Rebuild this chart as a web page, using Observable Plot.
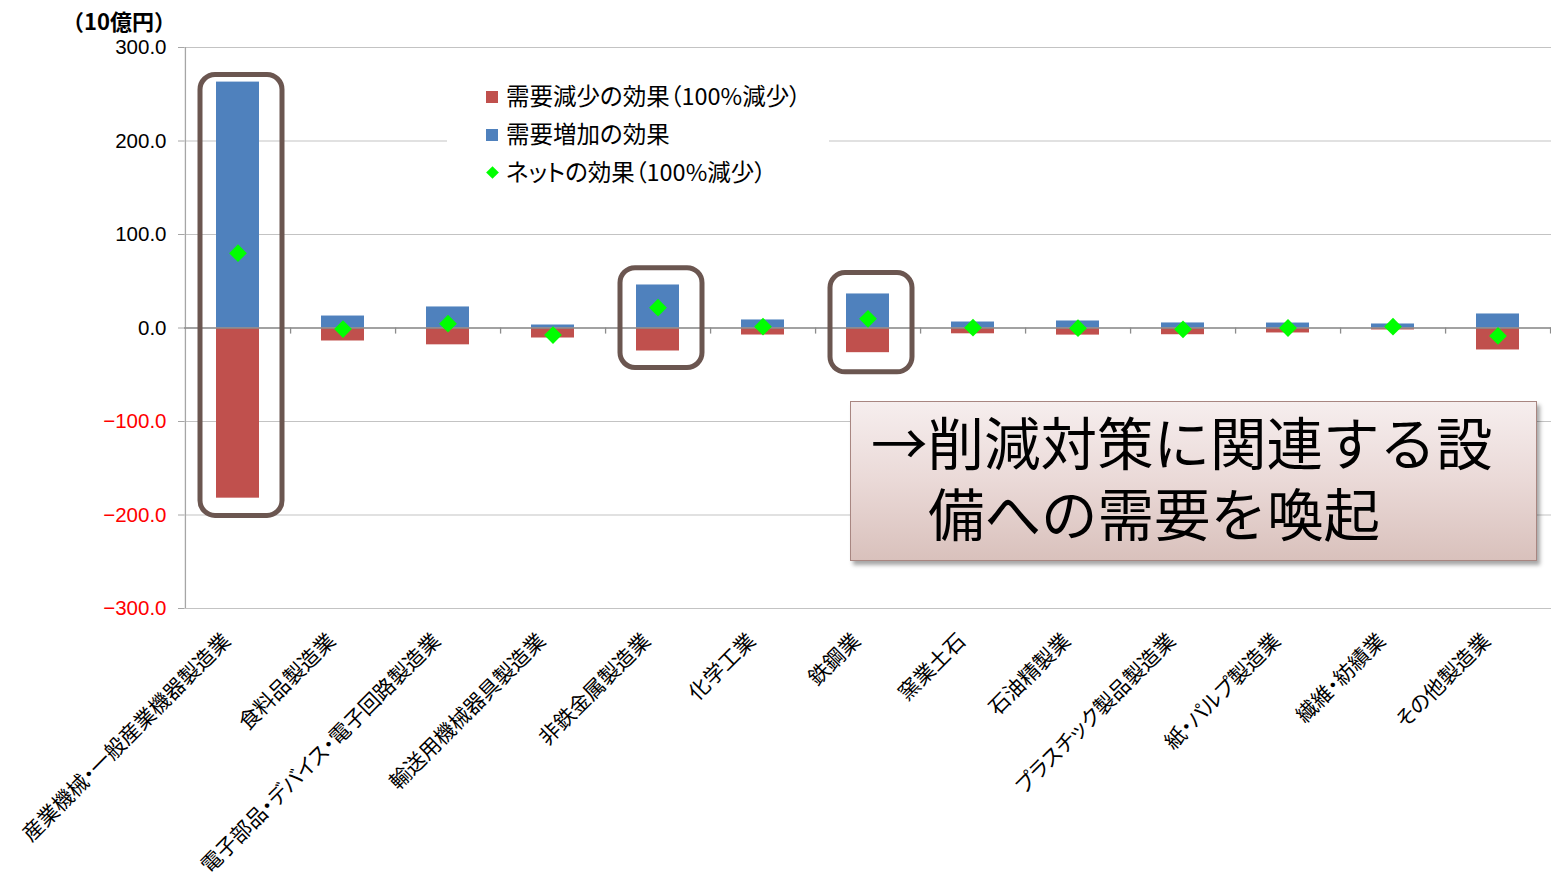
<!DOCTYPE html>
<html>
<head>
<meta charset="utf-8">
<script src="https://cdn.jsdelivr.net/npm/d3@7"></script>
<script src="https://cdn.jsdelivr.net/npm/@observablehq/plot@0.6"></script>
<style>
  html, body { margin: 0; padding: 0; background: #fff; }
  #wrap { position: relative; width: 1551px; height: 877px; overflow: hidden; }
  .cjk { font-family: "Noto Sans CJK JP", "Noto Sans", sans-serif; }
  #unit { position: absolute; left: 40px; width: 136px; top: 4px; text-align: right; font-weight: bold; font-size: 22px; color: #000; }
  #legend { position: absolute; left: 447px; top: 76px; width: 382px; height: 118px; background: #fff; }
  .item { position: absolute; left: 39px; height: 30px; line-height: 30px; font-size: 23.5px; color: #000; white-space: nowrap; font-feature-settings: "palt"; }
  .sw { display: inline-block; width: 12px; height: 12px; margin-right: 8px; vertical-align: middle; position: relative; top: -2px; }
  .dia { display: inline-block; width: 9px; height: 9px; background: #00ff00; transform: rotate(45deg); margin: 0 9px 0 2px; vertical-align: middle; position: relative; top: -2px; }
  #callout { position: absolute; left: 850px; top: 401px; width: 685px; height: 158px; border: 1.5px solid #a88681;
    background: linear-gradient(to bottom, #f6eeee 0%, #ead9d7 50%, #d9c1bc 100%);
    box-shadow: 3px 4px 4px rgba(0,0,0,0.35); }
  #callout .txt { position: absolute; left: 20px; top: 3px; width: 660px; padding-left: 57px; text-indent: -57px;
    font-size: 56.5px; line-height: 71px; color: #000; white-space: pre; }
</style>
</head>
<body>
<div id="wrap">
  <div id="chart"></div>
  <div id="unit" class="cjk"></div>
  <div id="legend" class="cjk"></div>
  <div id="callout" class="cjk"></div>
</div>
<script>
// ---- data ----
const categories = [
  "産業機械・一般産業機器製造業", "食料品製造業", "電子部品・デバイス・電子回路製造業",
  "輸送用機械器具製造業", "非鉄金属製造業", "化学工業", "鉄鋼業", "窯業土石",
  "石油精製業", "プラスチック製品製造業", "紙・パルプ製造業", "繊維・紡績業", "その他製造業"
];
const decreaseEffect = [-182, -13.9, -18, -10.7, -24.6, -7.5, -26.4, -6.2, -7.6, -7.2, -5.3, -2.1, -23.5];
const increaseEffect = [263, 12.8, 22.5, 3.2, 46, 8.6, 36.4, 6.4, 7.5, 5.4, 5.3, 4.3, 15];
const netEffect      = [80, -1.1, 4.6, -7.5, 21.7, 1.4, 9.8, 0.3, -0.2, -1.4, 0, 1.4, -8.5];
const yTicks = [-300, -200, -100, 0, 100, 200, 300];
const legendLabels = ["需要減少の効果（100%減少）", "需要増加の効果", "ネットの効果（100%減少）"];
const highlightCats = ["産業機械・一般産業機器製造業", "非鉄金属製造業", "鉄鋼業"];
const highlightTop = [270.6, 64, 58.8];
const highlightBottom = [-201, -42.8, -47.4];
const calloutLines = ["→削減対策に関連する設", "備への需要を喚起"];
const unitLabel = "（10億円）";

// ---- build ----
const rows = categories.map((c, i) => ({category: c, dec: decreaseEffect[i], inc: increaseEffect[i], net: netEffect[i]}));
const boxes = highlightCats.map((c, i) => ({category: c, top: highlightTop[i], bottom: highlightBottom[i]}));

const W = 1551, H = 877, mL = 184, mR = 0, mT = 47, mB = 269;
const step = (W - mL - mR) / categories.length;
const fmt = d3.format(".1f");
const CJK = "Noto Sans CJK JP";

const chart = Plot.plot({
  width: W, height: H,
  marginLeft: mL, marginRight: mR, marginTop: mT, marginBottom: mB,
  style: {fontFamily: "Liberation Sans, Arial, sans-serif", background: "transparent", overflow: "visible"},
  x: {domain: categories, paddingInner: 0.59, paddingOuter: 0.295, axis: null},
  y: {domain: [-300, 300], axis: null},
  marks: [
    Plot.ruleY(yTicks, {stroke: "#c3c3c3", strokeWidth: 1}),
    Plot.ruleX([categories[0]], {dx: -step / 2, stroke: "#a6a6a6", strokeWidth: 1.3}),
    Plot.axisY({ticks: yTicks, tickSize: 6, tickFormat: () => "", stroke: "#a6a6a6"}),
    Plot.barY(rows, {x: "category", y1: 0, y2: "dec", fill: "#c0504d"}),
    Plot.barY(rows, {x: "category", y1: 0, y2: "inc", fill: "#4f81bd"}),
    Plot.ruleY([0], {stroke: "#8c8c8c", strokeWidth: 1.5}),
    Plot.ruleX(categories, {x: d => d, dx: step / 2, y1: 0, y2: -6.5, stroke: "#8c8c8c", strokeWidth: 1.3}),
    Plot.dot(rows, {x: "category", y: "net", symbol: "diamond2", r: 8, fill: "#00ff00", stroke: "none"}),
    Plot.barY(boxes, {x: "category", y1: "bottom", y2: "top", fill: "none", stroke: "#6b5650", strokeWidth: 5, rx: 15, insetLeft: -16, insetRight: -23}),
    Plot.text(yTicks.filter(d => d >= 0), {y: d => d, frameAnchor: "left", dx: -18, textAnchor: "end", text: d => fmt(d), fill: "#000", fontSize: 20.5}),
    Plot.text(yTicks.filter(d => d < 0), {y: d => d, frameAnchor: "left", dx: -18, textAnchor: "end", text: d => fmt(d), fill: "#ff0000", fontSize: 20.5}),
    Plot.text(categories, {x: d => d, frameAnchor: "bottom", rotate: -45, textAnchor: "end", lineAnchor: "middle", dx: -11, dy: 29, fontSize: 21, fontFamily: CJK, fill: "#000"})
  ]
});
chart.querySelectorAll("text").forEach(t => { if (/[\u3000-\u9fff]/.test(t.textContent)) t.style.fontFeatureSettings = "'palt'"; });
document.getElementById("chart").appendChild(chart);

document.getElementById("unit").textContent = unitLabel;

// legend
const legend = document.getElementById("legend");
const swatches = ["#c0504d", "#4f81bd", null];
legendLabels.forEach((t, i) => {
  const it = document.createElement("div");
  it.className = "item";
  it.style.top = (4 + i * 38) + "px";
  const s = document.createElement("span");
  if (swatches[i]) { s.className = "sw"; s.style.background = swatches[i]; }
  else { s.className = "dia"; }
  it.appendChild(s);
  it.appendChild(document.createTextNode(t));
  legend.appendChild(it);
});

// callout (one text block with hanging indent)
const callout = document.getElementById("callout");
const txt = document.createElement("div");
txt.className = "txt";
txt.textContent = calloutLines.join("\n");
callout.appendChild(txt);
</script>
</body>
</html>
